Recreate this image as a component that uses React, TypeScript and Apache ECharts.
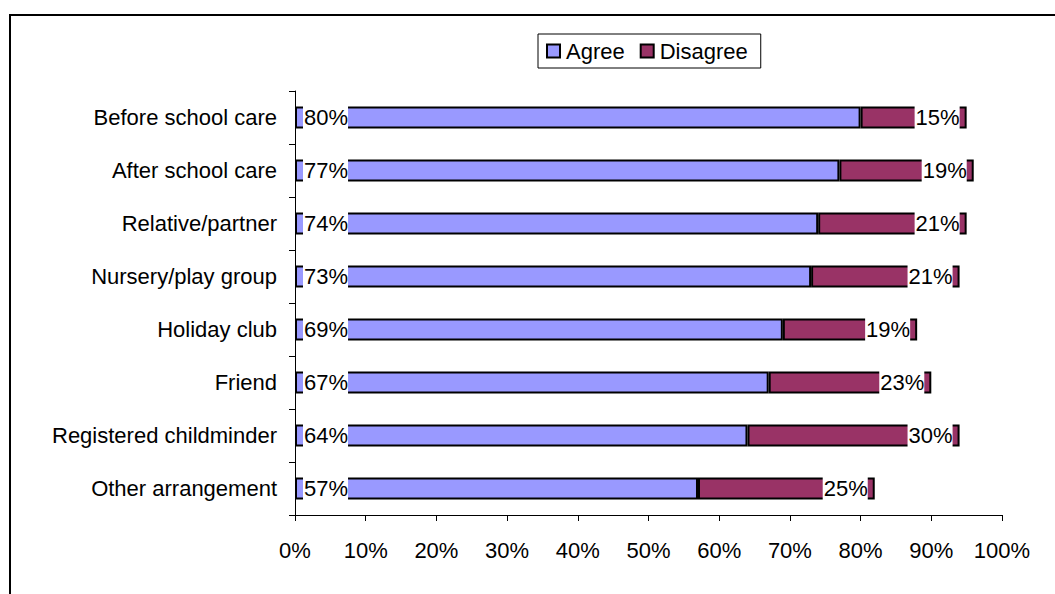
import React, { useEffect, useRef } from "react";
import * as echarts from "echarts";

const categories = [
  "Before school care",
  "After school care",
  "Relative/partner",
  "Nursery/play group",
  "Holiday club",
  "Friend",
  "Registered childminder",
  "Other arrangement",
];
const agree = [80, 77, 74, 73, 69, 67, 64, 57];
const disagree = [15, 19, 21, 21, 19, 23, 30, 25];
const seriesNames = ["Agree", "Disagree"];
const xTicks = [0, 10, 20, 30, 40, 50, 60, 70, 80, 90, 100];

const FONT = "'Liberation Sans', Arial, sans-serif";
const FS = 22;

export default function App() {
  const ref = useRef<HTMLDivElement>(null);
  useEffect(() => {
    if (!ref.current) return;
    const chart = echarts.init(ref.current, null, { renderer: "svg" });
    const labelBase = {
      show: true,
      formatter: "{c}%",
      color: "#000",
      fontSize: FS,
      fontFamily: FONT,
      backgroundColor: "#fff",
      padding: [2, 0, 1, 1],
    };
    chart.setOption({
      animation: false,
      backgroundColor: "#fff",
      textStyle: { fontFamily: FONT },
      graphic: [
        {
          type: "rect",
          shape: { x: 10, y: 15, width: 1200, height: 700 },
          style: { fill: "none", stroke: "#000", lineWidth: 2 },
          silent: true,
          z: -1,
        },
      ],
      legend: {
        data: seriesNames,
        left: 538,
        top: 34,
        borderColor: "#000",
        borderWidth: 1,
        padding: [6, 13, 6, 8],
        itemGap: 15,
        itemWidth: 13,
        itemHeight: 13,
        icon: "rect",
        textStyle: { fontSize: FS, color: "#000", fontFamily: FONT, padding: [0, 0, 0, 1] },
      },
      grid: { left: 295, right: 53, top: 91, bottom: 79, containLabel: false },
      xAxis: {
        type: "value",
        min: xTicks[0],
        max: xTicks[xTicks.length - 1],
        interval: 10,
        axisLine: { show: true, lineStyle: { color: "#000", width: 1 } },
        axisTick: { show: true, length: 6, lineStyle: { color: "#000" } },
        splitLine: { show: false },
        axisLabel: {
          formatter: "{value}%",
          fontSize: FS,
          color: "#000",
          fontFamily: FONT,
          margin: 24,
        },
      },
      yAxis: {
        type: "category",
        data: categories,
        inverse: true,
        axisLine: { show: true, lineStyle: { color: "#000", width: 1 } },
        axisTick: { show: true, length: 6, lineStyle: { color: "#000" } },
        axisLabel: { fontSize: FS, color: "#000", fontFamily: FONT, margin: 18 },
      },
      series: [
        {
          name: seriesNames[0],
          type: "bar",
          stack: "total",
          data: agree,
          barWidth: 22,
          itemStyle: { color: "#9999FF", borderColor: "#000", borderWidth: 2 },
          label: { ...labelBase, position: "insideLeft", distance: 8 },
        },
        {
          name: seriesNames[1],
          type: "bar",
          stack: "total",
          data: disagree,
          barWidth: 22,
          itemStyle: { color: "#993366", borderColor: "#000", borderWidth: 2 },
          label: { ...labelBase, position: "insideRight", distance: 7 },
        },
      ],
    });
    return () => chart.dispose();
  }, []);
  return (
    <div
      ref={ref}
      style={{ position: "fixed", left: 0, top: 0, width: 1055, height: 594 }}
    />
  );
}
